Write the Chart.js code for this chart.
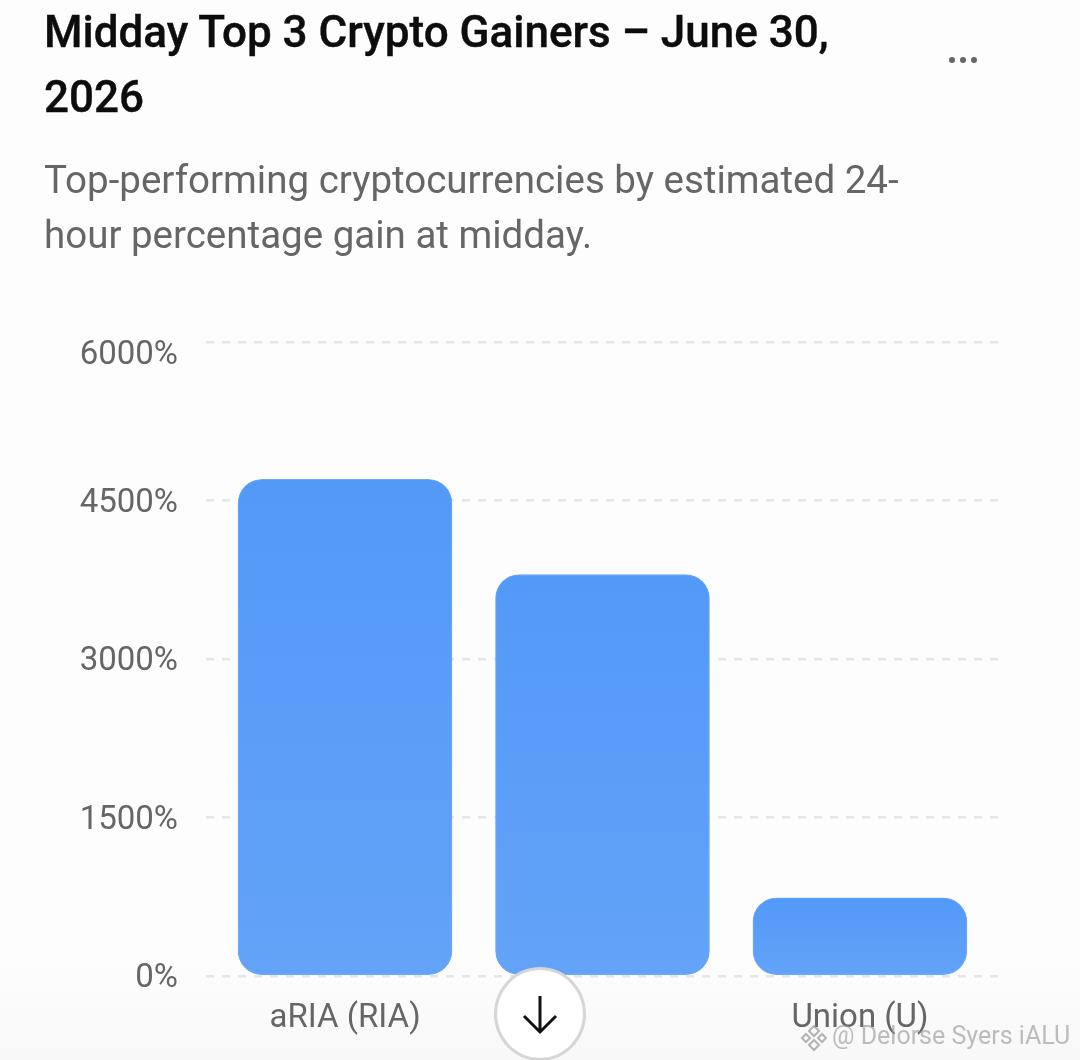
<!DOCTYPE html>
<html>
<head>
  <meta charset="UTF-8">
  <title>Midday Top 3 Crypto Gainers</title>
  <script src="https://cdn.jsdelivr.net/npm/chart.js"></script>
  <style>
    html, body { margin: 0; padding: 0; }
    body {
      width: 1080px; height: 1060px; position: relative; overflow: hidden;
      font-family: Roboto, sans-serif;
      background: linear-gradient(#fdfdfd 0, #fdfdfd 960px, #f8f8f8 1060px);
    }
    #chartBox { position: absolute; left: 0; top: 0; width: 1080px; height: 1060px; }
    h1 {
      position: absolute; left: 44px; top: 0; margin: 0; width: 830px;
      font-size: 44px; font-weight: 500; line-height: 65px; color: #0d0d0d;
      -webkit-text-stroke: 0.4px #0d0d0d;
    }
    p {
      position: absolute; left: 44px; top: 152px; margin: 0; width: 880px;
      font-size: 38.5px; line-height: 55px; color: #666;
    }
    #dots { position: absolute; left: 949px; top: 57px; display: flex; gap: 5px; }
    #dots i { width: 6px; height: 6px; border-radius: 50%; background: #666; }
    #down {
      position: absolute; left: 494px; top: 967px; width: 86px; height: 88px;
      border: 3px solid #d6d6d6; border-radius: 50%; background: #fff;
    }
    #mark {
      position: absolute; left: 832px; top: 1021px; font-size: 25px; color: rgba(150,150,150,.62);
      white-space: nowrap;
    }
    #logo { position: absolute; left: 800px; top: 1024px; }
  </style>
</head>
<body>
  <div id="chartBox"><canvas id="gainers"></canvas></div>
  <h1>Midday Top 3 Crypto Gainers – June 30, 2026</h1>
  <div id="dots"><i></i><i></i><i></i></div>
  <p>Top-performing cryptocurrencies by estimated 24-hour percentage gain at midday.</p>
  <div id="down">
    <svg width="86" height="88" viewBox="0 0 86 88" fill="none" stroke="#111" stroke-width="3">
      <path d="M43 26V62M27 46L43 62L59 46"/>
    </svg>
  </div>
  <svg id="logo" width="28" height="28" viewBox="0 0 28 28" fill="none" stroke="rgba(150,150,150,.7)" stroke-width="2">
    <path d="M14 2L19 7L14 12L9 7ZM6 10L10 14L6 18L2 14ZM22 10L26 14L22 18L18 14ZM14 16L19 21L14 26L9 21Z"/>
  </svg>
  <div id="mark">@ Delorse Syers iALU</div>

  <script>
    // middle label is hidden in the source chart
    const categories = ['aRIA (RIA)', '', 'Union (U)'];
    const gains = [4700, 3800, 740];
    const yTicks = [0, 1500, 3000, 4500, 6000];

    function barFill(c) {
      const y = c.chart.scales.y;
      if (!y || !c.raw) return '#5899f8';
      const top = y.getPixelForValue(c.raw.y);
      const base = y.getPixelForValue(0);
      if (!isFinite(top) || !isFinite(base)) return '#5899f8';
      const g = c.chart.ctx.createLinearGradient(0, top, 0, base);
      g.addColorStop(0, '#5399f8');
      g.addColorStop(1, '#63a3f8');
      return g;
    }

    new Chart(document.getElementById('gainers'), {
      type: 'bar',
      data: {
        datasets: [{
          data: gains.map((v, i) => ({ x: i, y: v })),
          backgroundColor: barFill,
          borderColor: '#6eaaf8',
          borderWidth: 1,
          borderSkipped: false,
          borderRadius: 24,
          barThickness: 214
        }]
      },
      options: {
        responsive: true,
        maintainAspectRatio: false,
        animation: false,
        layout: { padding: { top: 342, right: 80, bottom: 0, left: 0 } },
        plugins: { legend: { display: false }, tooltip: { enabled: false } },
        scales: {
          x: {
            type: 'linear',
            offset: false,
            min: -0.54,
            max: 2.544,
            afterBuildTicks: s => { s.ticks = categories.map((_, i) => ({ value: i })); },
            afterFit: s => { s.height = 84; },
            grid: { display: false },
            border: { display: false },
            ticks: {
              autoSkip: false,
              maxRotation: 0,
              padding: 15,
              color: '#666',
              font: { family: 'Roboto', size: 33 },
              callback: v => categories[v]
            }
          },
          y: {
            min: 0,
            max: 6000,
            afterBuildTicks: s => { s.ticks = yTicks.map(v => ({ value: v })); },
            afterFit: s => { s.width = 206; },
            border: { display: false, dash: [8, 8] },
            grid: { color: '#e6e6e6', lineWidth: 2.5, drawTicks: false },
            ticks: {
              padding: 28,
              labelOffset: 3,
              color: '#666',
              font: { family: 'Roboto', size: 33, lineHeight: 0.68 },
              // top label sits a little below its gridline in the source
              callback: v => v === 6000 ? ['', v + '%'] : v + '%'
            }
          }
        }
      }
    });
  </script>
</body>
</html>
